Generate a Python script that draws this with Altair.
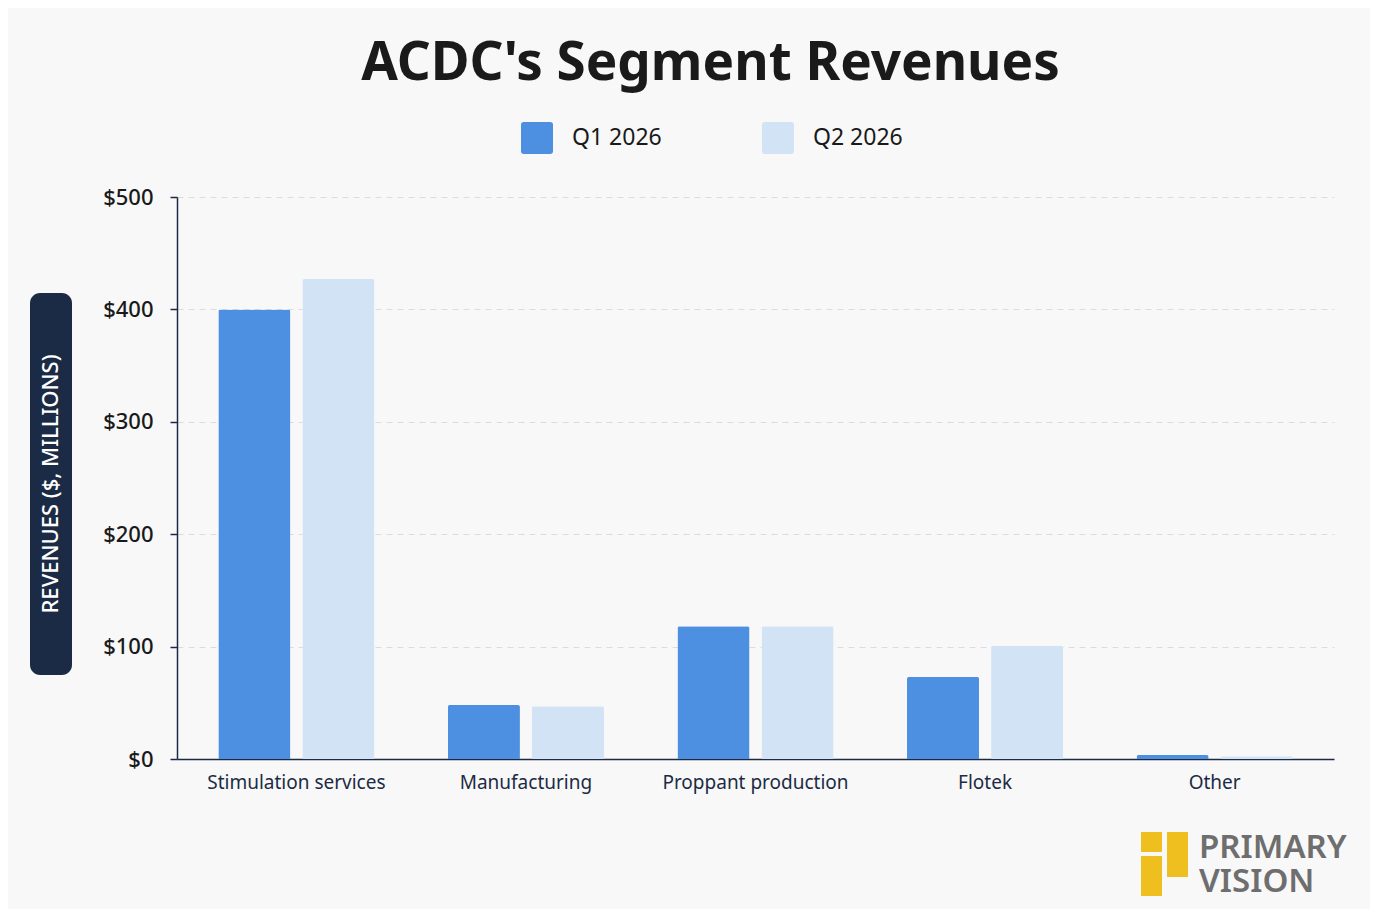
import altair as alt
import pandas as pd

categories = ["Stimulation services", "Manufacturing", "Proppant production", "Flotek", "Other"]
series = ["Q1 2026", "Q2 2026"]
q1_values = [400, 48, 118, 73, 3.5]
q2_values = [427, 47, 118, 101, 2.5]
colors = ["#4d8fe0", "#d3e3f6"]

rows = []
for c, a, b in zip(categories, q1_values, q2_values):
    rows.append({"segment": c, "quarter": series[0], "revenue": a})
    rows.append({"segment": c, "quarter": series[1], "revenue": b})
df = pd.DataFrame(rows)
one = pd.DataFrame({"k": [0]})

FONT = "Noto Sans"
NAVY = "#1c2b45"

rounded_square = ("M-0.82,-1 L0.82,-1 Q1,-1 1,-0.82 L1,0.82 Q1,1 0.82,1 "
                  "L-0.82,1 Q-1,1 -1,0.82 L-1,-0.82 Q-1,-1 -0.82,-1 Z")

bars = alt.Chart(df).mark_bar(cornerRadiusTopLeft=2, cornerRadiusTopRight=2).encode(
    x=alt.X("segment:N", sort=categories, title=None,
            scale=alt.Scale(paddingInner=0.32, paddingOuter=0.18),
            axis=alt.Axis(labelAngle=0, labelFont=FONT, labelFontSize=19,
                          labelColor=NAVY, labelPadding=14, labelLimit=400,
                          ticks=False, domainColor=NAVY, domainWidth=1.5,
                          grid=False)),
    xOffset=alt.XOffset("quarter:N", sort=series,
                        scale=alt.Scale(paddingInner=0.143)),
    y=alt.Y("revenue:Q", title=None,
            scale=alt.Scale(domain=[0, 500], nice=False),
            axis=alt.Axis(values=[0, 100, 200, 300, 400, 500], format="$.0f",
                          labelFont=FONT, labelFontSize=22, labelFontWeight=500,
                          labelColor="#1a1a1a", labelPadding=17,
                          tickSize=7, tickColor=NAVY, tickWidth=1.5,
                          domainColor=NAVY, domainWidth=1.5,
                          grid=True, gridColor="#dcdcdc", gridDash=[6, 5],
                          gridWidth=1)),
    color=alt.Color("quarter:N", sort=series,
                    scale=alt.Scale(domain=series, range=colors),
                    legend=alt.Legend(title=None, orient="none", direction="horizontal",
                                      legendX=344, legendY=-75, columns=2,
                                      columnPadding=100, symbolType=rounded_square,
                                      symbolSize=1024, symbolStrokeWidth=0,
                                      symbolOpacity=1, labelFont=FONT,
                                      labelFontSize=23, labelColor="#1a1a1a",
                                      labelOffset=19, padding=0)),
)

ybox = alt.Chart(one).mark_rect(color=NAVY, cornerRadius=10).encode(
    x=alt.value(-147), x2=alt.value(-105), y=alt.value(96), y2=alt.value(478))
ytitle = alt.Chart(one).mark_text(
    text="REVENUES ($, MILLIONS)", angle=270, color="white", font=FONT,
    fontSize=22, fontWeight=500, align="center", baseline="middle").encode(
    x=alt.value(-126), y=alt.value(287))

YEL = "#efbf1f"
logo1 = alt.Chart(one).mark_rect(color=YEL).encode(
    x=alt.value(964), x2=alt.value(985), y=alt.value(635), y2=alt.value(655))
logo2 = alt.Chart(one).mark_rect(color=YEL).encode(
    x=alt.value(964), x2=alt.value(985), y=alt.value(659), y2=alt.value(699))
logo3 = alt.Chart(one).mark_rect(color=YEL).encode(
    x=alt.value(990), x2=alt.value(1011), y=alt.value(635), y2=alt.value(680))
logo_text = alt.Chart(one).mark_text(
    text=["PRIMARY", "VISION"], lineHeight=34, font=FONT, fontSize=33,
    fontWeight=600, color="#6e6e6e", align="left",
    baseline="alphabetic").encode(x=alt.value(1022), y=alt.value(661))

chart = alt.layer(bars, ybox, ytitle, logo1, logo2, logo3, logo_text).properties(
    width=1157, height=562,
    title=alt.TitleParams("ACDC's Segment Revenues", font=FONT, fontSize=53,
                          fontWeight="bold", color="#1a1a1a", anchor="middle",
                          dx=-45, offset=31),
    autosize=alt.AutoSizeParams(type="none"),
    padding={"left": 169, "top": 189, "right": 36, "bottom": 150},
    background="#f8f8f8",
).configure_view(stroke=None)

chart.save("out.html", embed_options={"renderer": "svg", "actions": False})
